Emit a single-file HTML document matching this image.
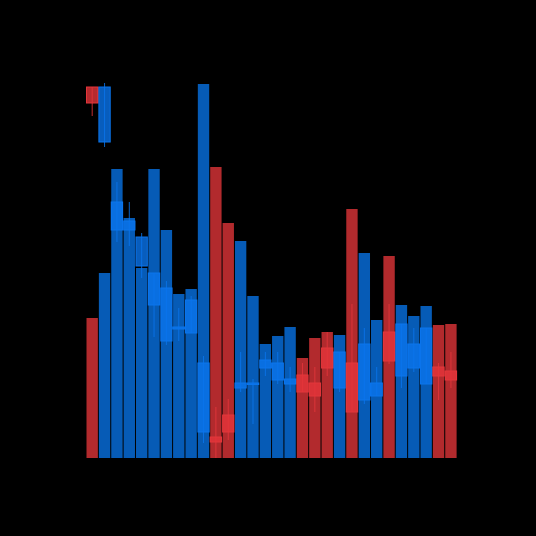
<!DOCTYPE html>
<html><head><meta charset="utf-8"><style>
html,body{margin:0;padding:0;background:#000;}
svg{display:block;}
</style></head><body>
<svg id="chart" width="536" height="536" viewBox="0 0 536 536">
<rect x="0" y="0" width="536" height="536" fill="#000"/>
<g id="vol"></g>
<g id="cdl"></g>
</svg>
<script>
const volumes=[140,185,289,240,190,289,228,164,169,374,291,235,217,162,114,122,131,100,120,126,123,249,205,138,202,153,142,152,133,134];
const opens=[383,328,240,240,204,165,129,141,137,38,33,55,82,86,102,90,86,95,87,122,82,107,70,74,138,94,102,86,103,99];
const closes=[367,383,268,249,233,197,182,143,170,107,28,38,87,87,110,107,91,78,74,102,118,58,126,87,109,146,126,142,94,90];
const highs=[383,387,288,268,237,197,189,162,174,114,63,71,118,91,118,118,103,107,103,138,118,166,142,103,166,146,142,142,107,118];
const lows=[354,323,228,224,192,133,125,129,137,27,12,30,78,46,94,86,78,78,58,94,78,58,66,74,106,82,98,86,70,82];
const NS='http://www.w3.org/2000/svg';
const x0=86,pitch=12.37,bottom=458;
function xL(i){return x0+pitch*i;}
function yVol(v){return bottom-v;}
function yPrice(p){return 470-p;}
const vg=document.getElementById('vol'),cg=document.getElementById('cdl');
for(let i=0;i<volumes.length;i++){
  const up=closes[i]>=opens[i];
  const r=document.createElementNS(NS,'rect');
  
  
  r.setAttribute('x',xL(i)+0.5);r.setAttribute('width',pitch-1);
  r.setAttribute('y',yVol(volumes[i]));r.setAttribute('height',volumes[i]);
  r.setAttribute('fill',up?'#065bb6':'#b22a2d');
  vg.appendChild(r);
  const cx=xL(i)+pitch/2;
  const col=up?'#0a74ec':'#e3353a';
  const w=document.createElementNS(NS,'line');
  
  
  w.setAttribute('x1',cx);w.setAttribute('x2',cx);
  w.setAttribute('y1',yPrice(highs[i]));w.setAttribute('y2',yPrice(lows[i]));
  w.setAttribute('stroke',col);w.setAttribute('stroke-width',1);w.setAttribute('opacity',0.85);
  cg.appendChild(w);
  const top=yPrice(Math.max(opens[i],closes[i])),bot=yPrice(Math.min(opens[i],closes[i]));
  const b=document.createElementNS(NS,'rect');
  
  
  b.setAttribute('x',xL(i)+0.5);b.setAttribute('width',pitch-1);
  b.setAttribute('y',top);b.setAttribute('height',Math.max(bot-top,1.5));
  b.setAttribute('fill',col);b.setAttribute('fill-opacity',0.8);
  b.setAttribute('stroke',col);b.setAttribute('stroke-width',1);
  cg.appendChild(b);
}
</script>
</body></html>
